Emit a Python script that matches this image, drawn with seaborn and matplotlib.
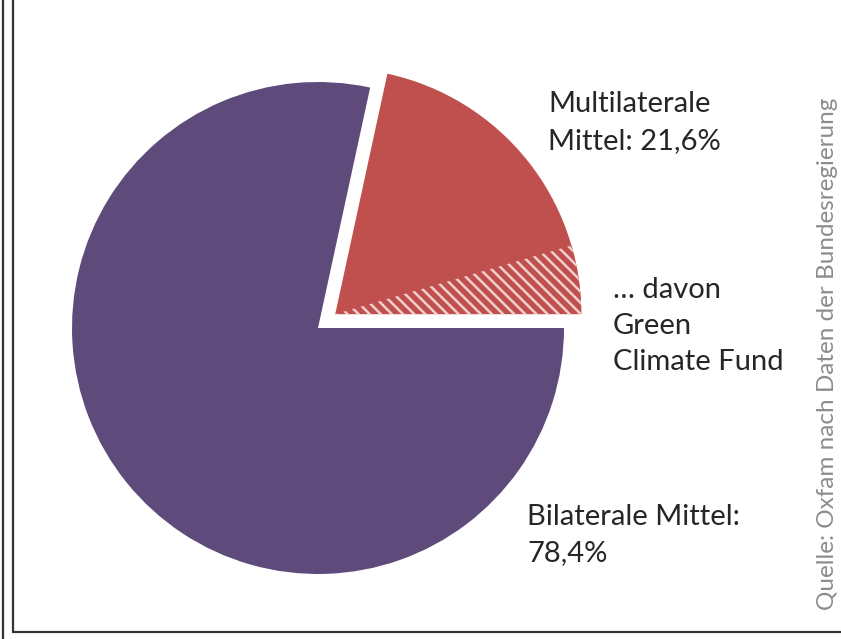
import matplotlib
matplotlib.use("Agg")
import matplotlib.pyplot as plt
import seaborn as sns
from matplotlib.lines import Line2D
from matplotlib.patches import Wedge

# shares in percent
segments = ["Multilaterale Mittel", "Bilaterale Mittel"]
shares = [21.6, 78.4]
gcf_share = 4.5  # Green Climate Fund, part of the multilateral share
colors = ["#C0504D", "#5E4A7B"]
explode = [0.09, 0.0]

sns.set_theme(style="white")
plt.rcParams["font.family"] = ["Lato", "DejaVu Sans"]
plt.rcParams["hatch.linewidth"] = 1.8

W, H = 841, 639
fig = plt.figure(figsize=(W / 100, H / 100), dpi=100)
ax = fig.add_axes([0, 0, 1, 1])

cx, cy, r = 318, 328, 246

wedges, _ = ax.pie(shares, colors=colors, explode=explode, startangle=0,
                   counterclock=True, radius=1.0, frame=False,
                   wedgeprops=dict(linewidth=0))

# hatched part of the multilateral slice
red = wedges[0]
gcf = Wedge(red.center, red.r, red.theta1, red.theta1 + gcf_share / 100 * 360,
            facecolor="#C0504D", edgecolor="#F2CFCE", linewidth=0,
            hatch="\\\\\\")
ax.add_patch(gcf)

ax.set_xlim(-cx / r, (W - cx) / r)
ax.set_ylim(-(H - cy) / r, cy / r)
ax.set_aspect("equal")
ax.axis("off")


def px(x, y):
    return x / W, 1 - y / H


fs = 21
tc = "#262626"
fig.text(*px(548, 104), "Multilaterale", fontsize=fs, color=tc, va="center")
fig.text(*px(548, 141), "Mittel: 21,6%", fontsize=fs, color=tc, va="center")
fig.text(*px(613, 290), "\u2026 davon", fontsize=fs, color=tc, va="center")
fig.text(*px(613, 326), "Green", fontsize=fs, color=tc, va="center")
fig.text(*px(613, 362), "Climate Fund", fontsize=fs, color=tc, va="center")
fig.text(*px(527, 517), "Bilaterale Mittel:", fontsize=fs, color=tc, va="center")
fig.text(*px(527, 553), "78,4%", fontsize=fs, color=tc, va="center")

fig.text(*px(828, 354), "Quelle: Oxfam nach Daten der Bundesregierung",
         fontsize=17.5, color="#8C8C8C", rotation=90, ha="center", va="center")

# frame lines
fig.add_artist(Line2D([3 / W, 3 / W], [0, 1], color="#333333", lw=1.6))
fig.add_artist(Line2D([13 / W, 13 / W], [1 - 632 / H, 1], color="#333333", lw=1.6))
fig.add_artist(Line2D([13 / W, 1], [1 - 632 / H, 1 - 632 / H], color="#333333", lw=1.6))

fig.savefig("out.png", dpi=100)
